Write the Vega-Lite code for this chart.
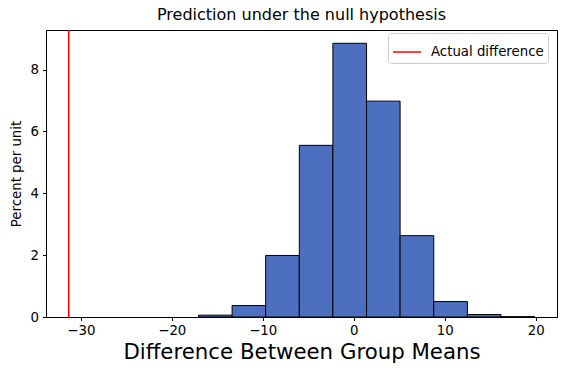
{
  "$schema": "https://vega.github.io/schema/vega-lite/v6.json",
  "autosize": "none",
  "width": 511,
  "height": 287,
  "padding": {"left": 46, "top": 30, "right": 9, "bottom": 57},
  "background": "white",
  "title": {"text": "Prediction under the null hypothesis", "fontSize": 16, "fontWeight": "normal", "font": "DejaVu Sans", "color": "black", "anchor": "middle", "offset": 6},
  "config": {
    "view": {"stroke": "black", "strokeWidth": 1},
    "axis": {"grid": false, "domainColor": "black", "tickColor": "black", "tickSize": 3.5, "labelColor": "black", "labelFont": "DejaVu Sans", "labelFontSize": 13.3, "titleFont": "DejaVu Sans", "titleColor": "black", "titleFontWeight": "normal"},
    "legend": {"labelFont": "DejaVu Sans", "labelFontSize": 13.3, "labelColor": "black"}
  },
  "layer": [
    {
      "data": {"values": [
        {"start": -17.07, "end": -13.37, "pct": 0.06},
        {"start": -13.37, "end": -9.68, "pct": 0.37},
        {"start": -9.68, "end": -5.98, "pct": 1.99},
        {"start": -5.98, "end": -2.29, "pct": 5.55},
        {"start": -2.29, "end": 1.41, "pct": 8.85},
        {"start": 1.41, "end": 5.10, "pct": 6.98},
        {"start": 5.10, "end": 8.80, "pct": 2.63},
        {"start": 8.80, "end": 12.50, "pct": 0.50},
        {"start": 12.50, "end": 16.19, "pct": 0.08},
        {"start": 16.19, "end": 19.89, "pct": 0.01}
      ]},
      "mark": {"type": "rect", "fill": "#4d6fc0", "stroke": "black", "strokeWidth": 1},
      "encoding": {
        "x": {"field": "start", "type": "quantitative", "scale": {"domain": [-33.83, 22.35], "nice": false, "zero": false},
              "axis": {"values": [-30, -20, -10, 0, 10, 20], "title": "Difference Between Group Means", "titleFontSize": 21.3, "titlePadding": 5, "labelPadding": 3}},
        "x2": {"field": "end"},
        "y": {"field": "pct", "type": "quantitative", "scale": {"domain": [0, 9.28], "nice": false},
              "axis": {"values": [0, 2, 4, 6, 8], "title": "Percent per unit", "titleFontSize": 13.3, "titlePadding": 7, "labelPadding": 4}},
        "y2": {"datum": 0}
      }
    },
    {
      "data": {"values": [{"x": -31.33, "label": "Actual difference"}]},
      "mark": {"type": "rule", "strokeWidth": 1.5},
      "encoding": {
        "x": {"field": "x", "type": "quantitative"},
        "color": {"field": "label", "type": "nominal", "scale": {"range": ["red"]},
                  "legend": {"title": null, "orient": "none", "legendX": 342, "legendY": 3, "symbolType": "stroke", "symbolSize": 784, "symbolStrokeWidth": 1.5, "strokeColor": "#cccccc", "cornerRadius": 3, "padding": 4, "fillColor": "white", "labelOffset": 9}}
      }
    }
  ]
}
